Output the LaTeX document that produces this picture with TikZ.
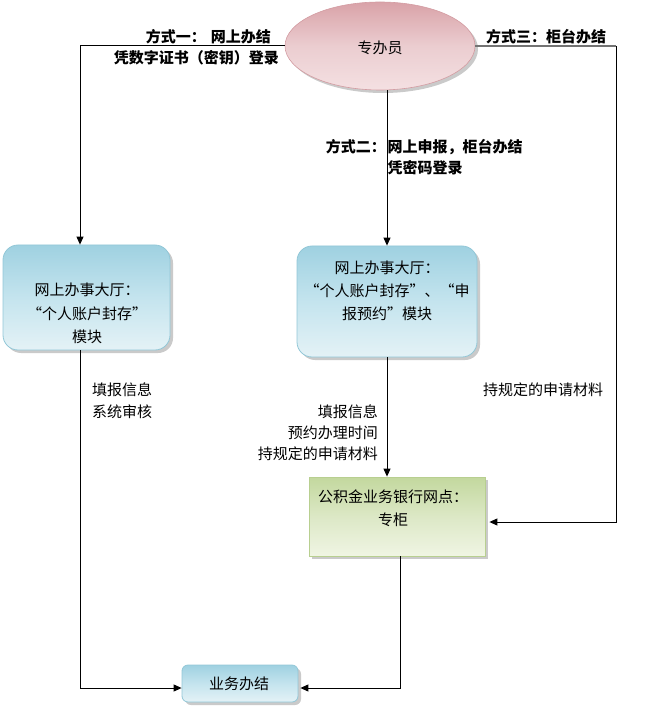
\documentclass[tikz,border=0pt]{standalone}
\usepackage{fontspec}
\setmainfont{Noto Sans CJK SC}
\usetikzlibrary{arrows.meta,shadows,shapes.geometric}
\definecolor{bluedark}{HTML}{9FD1E1}
\definecolor{bluelight}{HTML}{E4F2F6}
\definecolor{bluemid}{HTML}{C4E4EE}
\definecolor{blueedge}{HTML}{92C7D7}
\definecolor{greendark}{HTML}{C3D89E}
\definecolor{greenlight}{HTML}{F0F5E3}
\definecolor{greenmid}{HTML}{DCE8C6}
\definecolor{greenedge}{HTML}{B8CF90}
\definecolor{pinkdark}{HTML}{D9A2A8}
\definecolor{pinklight}{HTML}{F4E0E2}
\definecolor{pinkmid}{HTML}{EBCDD0}
\definecolor{pinkedge}{HTML}{D39CA2}
\begin{document}
\begin{tikzpicture}[x=1pt,y=-1pt,
  normtext/.style={font=\fontsize{15}{22}\selectfont, inner sep=0pt},
  boldtext/.style={font=\fontsize{15}{21}\selectfont\bfseries, inner sep=0pt},
  shad/.style={drop shadow={shadow xshift=3pt, shadow yshift=-3pt, fill=black!35, opacity=0.6}},
  bluebox/.style={shad, draw=blueedge, line width=0.8pt, shading angle=-40,
    top color=bluedark, bottom color=bluelight, middle color=bluemid, inner sep=0pt},
  greenbox/.style={shad, draw=greenedge, line width=0.8pt, shading angle=-40,
    top color=greendark, bottom color=greenlight, middle color=greenmid, inner sep=0pt},
  conn/.style={line width=1pt, black},
  arr/.style={conn, -{Triangle[length=8pt,width=7pt]}}
]
\useasboundingbox (0,0) rectangle (646,708);

% nodes
\node[ellipse, shad, draw=pinkedge, line width=0.6pt, shading angle=-35,
  top color=pinkdark, bottom color=pinklight, middle color=pinkmid,
  minimum width=190pt, minimum height=88pt, inner sep=0pt] (ell) at (380,46) {};
\node[normtext] (ellt) at (380,48) {专办员};

\node[bluebox, rounded corners=15pt, minimum width=167pt, minimum height=105pt] (box1) at (86.5,297.5) {};
\node[normtext, align=center, font=\fontsize{15}{23.5}\selectfont] (box1t) at (87,313.5)
  {网上办事大厅：\\“个人账户封存”\\模块};

\node[bluebox, rounded corners=15pt, minimum width=180pt, minimum height=111pt] (box2) at (387,301.5) {};
\node[normtext, align=center, font=\fontsize{15}{23}\selectfont] (box2t) at (387,290.5)
  {网上办事大厅：\\“个人账户封存”、“申\\报预约”模块};

\node[greenbox, minimum width=176pt, minimum height=79pt] (box3) at (397,516.5) {};
\node[normtext, align=center, font=\fontsize{15}{23}\selectfont] (box3t) at (393,508.5)
  {公积金业务银行网点：\\专柜};

\node[bluebox, rounded corners=6pt, minimum width=116pt, minimum height=37pt] (box4) at (240,683.5) {};
\node[normtext] (box4t) at (239,684) {业务办结};

% coordinates
\coordinate (c1) at (80,46);
\coordinate (c3) at (616,46);
\coordinate (c3b) at (616,522);
\coordinate (c4) at (80,688);
\coordinate (c5) at (400,688);

% connectors
\draw[arr] (ell.west) -- (c1) -- (c1 |- box1.north);
\draw[arr] (ell.south -| box2.north) -- (box2.north);
\draw[line width=1.8pt, black!55] (ell.east) -- (c3);
\draw[arr, shorten >=4pt] (c3) -- (c3b) -- (c3b -| box3.east);
\draw[arr] (box2.south) -- (box2.south |- box3.north);
\draw[arr] (c1 |- box1.south) -- (c4) -- (c4 -| box4.west);
\draw[arr, shorten >=2pt] (c5 |- box3.south) -- (c5) -- (c5 -| box4.east);

% labels
\node[boldtext, anchor=east] (l1a) at (271,37) {方式一：\hspace{5pt}网上办结};
\node[boldtext, anchor=east] (l1b) at (279,58) {凭数字证书（密钥）登录};
\node[boldtext, anchor=west] (l3) at (486,37) {方式三：柜台办结};
\node[boldtext, anchor=east] (l2a) at (386,147) {方式二：};
\node[boldtext, anchor=west] (l2b) at (387.5,147) {网上申报，柜台办结};
\node[boldtext, anchor=west] (l2c) at (387.5,168) {凭密码登录};

\node[normtext, align=left, anchor=west] (t1) at (92,401) {填报信息\\系统审核};
\node[normtext, align=right, anchor=east, font=\fontsize{15}{20.8}\selectfont] (t2) at (378,432.5)
  {填报信息\\预约办理时间\\持规定的申请材料};
\node[normtext, anchor=west] (t3) at (483,390) {持规定的申请材料};
\end{tikzpicture}
\end{document}
